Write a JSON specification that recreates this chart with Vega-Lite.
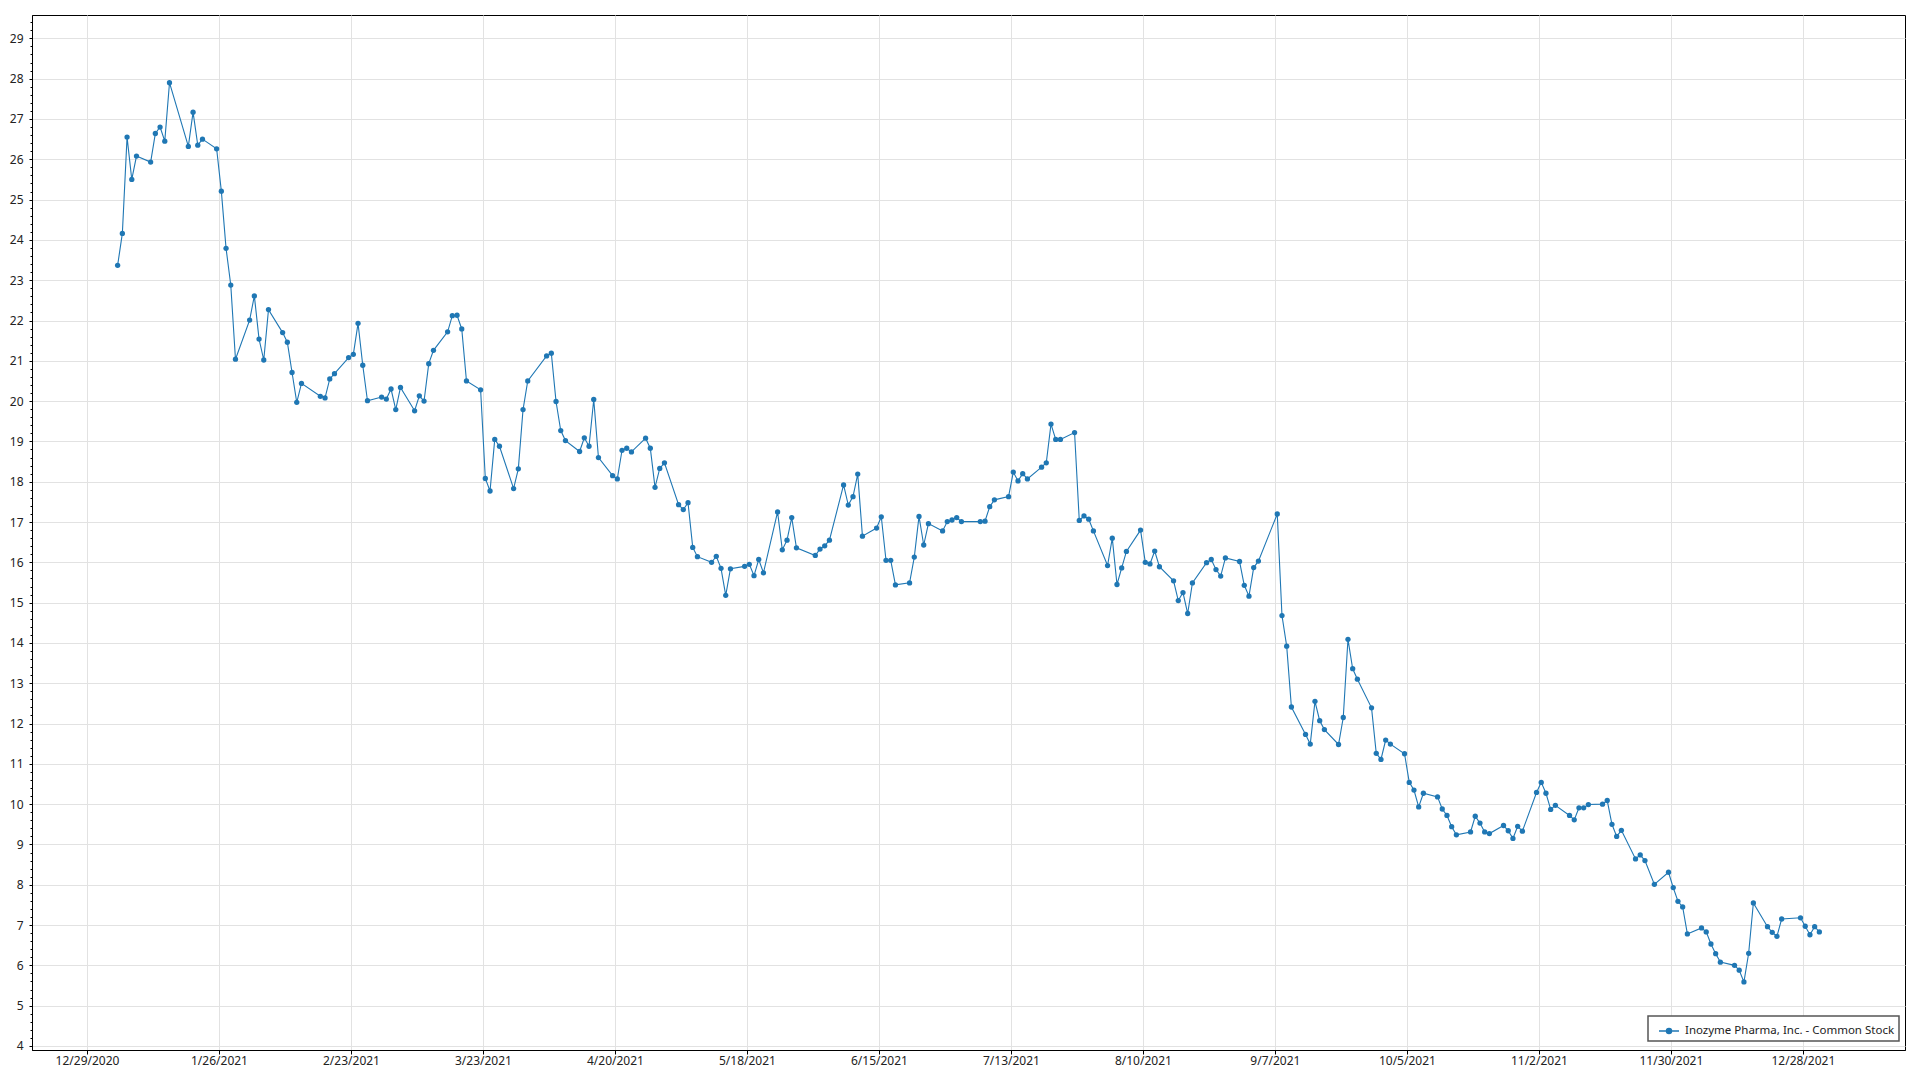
{
  "$schema": "https://vega.github.io/schema/vega-lite/v6.json",
  "autosize": {"type": "none"},
  "padding": {"left": 32, "top": 15, "right": 15, "bottom": 30},
  "width": 1873,
  "height": 1035,
  "background": "white",
  "config": {
    "view": {"stroke": "#000000", "strokeWidth": 1},
    "axis": {"labelFont": "Noto Sans", "labelFontSize": 12, "labelColor": "#222222", "domainColor": "#000000", "tickColor": "#000000", "gridColor": "#e2e2e2", "gridWidth": 1}
  },
  "data": {"values": [
    {"d":"2021-01-04T12:00","v":23.37},{"d":"2021-01-05T12:00","v":24.16},{"d":"2021-01-06T12:00","v":26.55},{"d":"2021-01-07T12:00","v":25.50},{"d":"2021-01-08T12:00","v":26.08},
    {"d":"2021-01-11T12:00","v":25.93},{"d":"2021-01-12T12:00","v":26.64},{"d":"2021-01-13T12:00","v":26.80},{"d":"2021-01-14T12:00","v":26.45},{"d":"2021-01-15T12:00","v":27.90},
    {"d":"2021-01-19T12:00","v":26.32},{"d":"2021-01-20T12:00","v":27.17},{"d":"2021-01-21T12:00","v":26.35},{"d":"2021-01-22T12:00","v":26.50},
    {"d":"2021-01-25T12:00","v":26.26},{"d":"2021-01-26T12:00","v":25.21},{"d":"2021-01-27T12:00","v":23.79},{"d":"2021-01-28T12:00","v":22.88},{"d":"2021-01-29T12:00","v":21.04},
    {"d":"2021-02-01T12:00","v":22.01},{"d":"2021-02-02T12:00","v":22.61},{"d":"2021-02-03T12:00","v":21.54},{"d":"2021-02-04T12:00","v":21.02},{"d":"2021-02-05T12:00","v":22.27},
    {"d":"2021-02-08T12:00","v":21.70},{"d":"2021-02-09T12:00","v":21.46},{"d":"2021-02-10T12:00","v":20.71},{"d":"2021-02-11T12:00","v":19.97},{"d":"2021-02-12T12:00","v":20.44},
    {"d":"2021-02-16T12:00","v":20.12},{"d":"2021-02-17T12:00","v":20.08},{"d":"2021-02-18T12:00","v":20.55},{"d":"2021-02-19T12:00","v":20.68},
    {"d":"2021-02-22T12:00","v":21.08},{"d":"2021-02-23T12:00","v":21.16},{"d":"2021-02-24T12:00","v":21.93},{"d":"2021-02-25T12:00","v":20.89},{"d":"2021-02-26T12:00","v":20.01},
    {"d":"2021-03-01T12:00","v":20.10},{"d":"2021-03-02T12:00","v":20.05},{"d":"2021-03-03T12:00","v":20.30},{"d":"2021-03-04T12:00","v":19.79},{"d":"2021-03-05T12:00","v":20.34},
    {"d":"2021-03-08T12:00","v":19.76},{"d":"2021-03-09T12:00","v":20.13},{"d":"2021-03-10T12:00","v":20.00},{"d":"2021-03-11T12:00","v":20.93},{"d":"2021-03-12T12:00","v":21.26},
    {"d":"2021-03-15T12:00","v":21.72},{"d":"2021-03-16T12:00","v":22.12},{"d":"2021-03-17T12:00","v":22.13},{"d":"2021-03-18T12:00","v":21.79},{"d":"2021-03-19T12:00","v":20.50},
    {"d":"2021-03-22T12:00","v":20.28},{"d":"2021-03-23T12:00","v":18.08},{"d":"2021-03-24T12:00","v":17.77},{"d":"2021-03-25T12:00","v":19.05},{"d":"2021-03-26T12:00","v":18.88},
    {"d":"2021-03-29T12:00","v":17.83},{"d":"2021-03-30T12:00","v":18.32},{"d":"2021-03-31T12:00","v":19.79},{"d":"2021-04-01T12:00","v":20.50},
    {"d":"2021-04-05T12:00","v":21.12},{"d":"2021-04-06T12:00","v":21.19},{"d":"2021-04-07T12:00","v":19.99},{"d":"2021-04-08T12:00","v":19.27},{"d":"2021-04-09T12:00","v":19.02},
    {"d":"2021-04-12T12:00","v":18.75},{"d":"2021-04-13T12:00","v":19.09},{"d":"2021-04-14T12:00","v":18.88},{"d":"2021-04-15T12:00","v":20.04},{"d":"2021-04-16T12:00","v":18.60},
    {"d":"2021-04-19T12:00","v":18.15},{"d":"2021-04-20T12:00","v":18.07},{"d":"2021-04-21T12:00","v":18.78},{"d":"2021-04-22T12:00","v":18.83},{"d":"2021-04-23T12:00","v":18.74},
    {"d":"2021-04-26T12:00","v":19.08},{"d":"2021-04-27T12:00","v":18.83},{"d":"2021-04-28T12:00","v":17.86},{"d":"2021-04-29T12:00","v":18.33},{"d":"2021-04-30T12:00","v":18.47},
    {"d":"2021-05-03T12:00","v":17.43},{"d":"2021-05-04T12:00","v":17.31},{"d":"2021-05-05T12:00","v":17.48},{"d":"2021-05-06T12:00","v":16.37},{"d":"2021-05-07T12:00","v":16.14},
    {"d":"2021-05-10T12:00","v":16.00},{"d":"2021-05-11T12:00","v":16.15},{"d":"2021-05-12T12:00","v":15.85},{"d":"2021-05-13T12:00","v":15.18},{"d":"2021-05-14T12:00","v":15.84},
    {"d":"2021-05-17T12:00","v":15.90},{"d":"2021-05-18T12:00","v":15.95},{"d":"2021-05-19T12:00","v":15.67},{"d":"2021-05-20T12:00","v":16.07},{"d":"2021-05-21T12:00","v":15.74},
    {"d":"2021-05-24T12:00","v":17.25},{"d":"2021-05-25T12:00","v":16.31},{"d":"2021-05-26T12:00","v":16.55},{"d":"2021-05-27T12:00","v":17.11},{"d":"2021-05-28T12:00","v":16.36},
    {"d":"2021-06-01T12:00","v":16.17},{"d":"2021-06-02T12:00","v":16.33},{"d":"2021-06-03T12:00","v":16.41},{"d":"2021-06-04T12:00","v":16.55},
    {"d":"2021-06-07T12:00","v":17.92},{"d":"2021-06-08T12:00","v":17.42},{"d":"2021-06-09T12:00","v":17.63},{"d":"2021-06-10T12:00","v":18.19},{"d":"2021-06-11T12:00","v":16.65},
    {"d":"2021-06-14T12:00","v":16.85},{"d":"2021-06-15T12:00","v":17.13},{"d":"2021-06-16T12:00","v":16.05},{"d":"2021-06-17T12:00","v":16.05},{"d":"2021-06-18T12:00","v":15.44},
    {"d":"2021-06-21T12:00","v":15.49},{"d":"2021-06-22T12:00","v":16.13},{"d":"2021-06-23T12:00","v":17.14},{"d":"2021-06-24T12:00","v":16.43},{"d":"2021-06-25T12:00","v":16.96},
    {"d":"2021-06-28T12:00","v":16.78},{"d":"2021-06-29T12:00","v":17.01},{"d":"2021-06-30T12:00","v":17.05},{"d":"2021-07-01T12:00","v":17.11},{"d":"2021-07-02T12:00","v":17.01},
    {"d":"2021-07-06T12:00","v":17.01},{"d":"2021-07-07T12:00","v":17.02},{"d":"2021-07-08T12:00","v":17.38},{"d":"2021-07-09T12:00","v":17.55},
    {"d":"2021-07-12T12:00","v":17.63},{"d":"2021-07-13T12:00","v":18.24},{"d":"2021-07-14T12:00","v":18.02},{"d":"2021-07-15T12:00","v":18.20},{"d":"2021-07-16T12:00","v":18.07},
    {"d":"2021-07-19T12:00","v":18.36},{"d":"2021-07-20T12:00","v":18.47},{"d":"2021-07-21T12:00","v":19.43},{"d":"2021-07-22T12:00","v":19.05},{"d":"2021-07-23T12:00","v":19.05},
    {"d":"2021-07-26T12:00","v":19.22},{"d":"2021-07-27T12:00","v":17.04},{"d":"2021-07-28T12:00","v":17.15},{"d":"2021-07-29T12:00","v":17.07},{"d":"2021-07-30T12:00","v":16.78},
    {"d":"2021-08-02T12:00","v":15.92},{"d":"2021-08-03T12:00","v":16.60},{"d":"2021-08-04T12:00","v":15.45},{"d":"2021-08-05T12:00","v":15.86},{"d":"2021-08-06T12:00","v":16.27},
    {"d":"2021-08-09T12:00","v":16.80},{"d":"2021-08-10T12:00","v":16.00},{"d":"2021-08-11T12:00","v":15.96},{"d":"2021-08-12T12:00","v":16.28},{"d":"2021-08-13T12:00","v":15.89},
    {"d":"2021-08-16T12:00","v":15.54},{"d":"2021-08-17T12:00","v":15.05},{"d":"2021-08-18T12:00","v":15.25},{"d":"2021-08-19T12:00","v":14.73},{"d":"2021-08-20T12:00","v":15.49},
    {"d":"2021-08-23T12:00","v":15.99},{"d":"2021-08-24T12:00","v":16.07},{"d":"2021-08-25T12:00","v":15.82},{"d":"2021-08-26T12:00","v":15.66},{"d":"2021-08-27T12:00","v":16.11},
    {"d":"2021-08-30T12:00","v":16.02},{"d":"2021-08-31T12:00","v":15.43},{"d":"2021-09-01T12:00","v":15.16},{"d":"2021-09-02T12:00","v":15.87},{"d":"2021-09-03T12:00","v":16.03},
    {"d":"2021-09-07T12:00","v":17.20},{"d":"2021-09-08T12:00","v":14.68},{"d":"2021-09-09T12:00","v":13.92},{"d":"2021-09-10T12:00","v":12.41},
    {"d":"2021-09-13T12:00","v":11.73},{"d":"2021-09-14T12:00","v":11.49},{"d":"2021-09-15T12:00","v":12.55},{"d":"2021-09-16T12:00","v":12.07},{"d":"2021-09-17T12:00","v":11.85},
    {"d":"2021-09-20T12:00","v":11.48},{"d":"2021-09-21T12:00","v":12.15},{"d":"2021-09-22T12:00","v":14.09},{"d":"2021-09-23T12:00","v":13.36},{"d":"2021-09-24T12:00","v":13.10},
    {"d":"2021-09-27T12:00","v":12.39},{"d":"2021-09-28T12:00","v":11.26},{"d":"2021-09-29T12:00","v":11.11},{"d":"2021-09-30T12:00","v":11.59},{"d":"2021-10-01T12:00","v":11.49},
    {"d":"2021-10-04T12:00","v":11.25},{"d":"2021-10-05T12:00","v":10.54},{"d":"2021-10-06T12:00","v":10.35},{"d":"2021-10-07T12:00","v":9.93},{"d":"2021-10-08T12:00","v":10.27},
    {"d":"2021-10-11T12:00","v":10.18},{"d":"2021-10-12T12:00","v":9.88},{"d":"2021-10-13T12:00","v":9.72},{"d":"2021-10-14T12:00","v":9.44},{"d":"2021-10-15T12:00","v":9.24},
    {"d":"2021-10-18T12:00","v":9.31},{"d":"2021-10-19T12:00","v":9.70},{"d":"2021-10-20T12:00","v":9.53},{"d":"2021-10-21T12:00","v":9.31},{"d":"2021-10-22T12:00","v":9.27},
    {"d":"2021-10-25T12:00","v":9.47},{"d":"2021-10-26T12:00","v":9.34},{"d":"2021-10-27T12:00","v":9.15},{"d":"2021-10-28T12:00","v":9.45},{"d":"2021-10-29T12:00","v":9.33},
    {"d":"2021-11-01T12:00","v":10.29},{"d":"2021-11-02T12:00","v":10.54},{"d":"2021-11-03T12:00","v":10.27},{"d":"2021-11-04T12:00","v":9.87},{"d":"2021-11-05T12:00","v":9.97},
    {"d":"2021-11-08T12:00","v":9.72},{"d":"2021-11-09T12:00","v":9.61},{"d":"2021-11-10T12:00","v":9.91},{"d":"2021-11-11T12:00","v":9.91},{"d":"2021-11-12T12:00","v":9.99},
    {"d":"2021-11-15T12:00","v":10.00},{"d":"2021-11-16T12:00","v":10.09},{"d":"2021-11-17T12:00","v":9.50},{"d":"2021-11-18T12:00","v":9.20},{"d":"2021-11-19T12:00","v":9.35},
    {"d":"2021-11-22T12:00","v":8.64},{"d":"2021-11-23T12:00","v":8.74},{"d":"2021-11-24T12:00","v":8.60},{"d":"2021-11-26T12:00","v":8.01},
    {"d":"2021-11-29T12:00","v":8.31},{"d":"2021-11-30T12:00","v":7.93},{"d":"2021-12-01T12:00","v":7.59},{"d":"2021-12-02T12:00","v":7.45},{"d":"2021-12-03T12:00","v":6.78},
    {"d":"2021-12-06T12:00","v":6.93},{"d":"2021-12-07T12:00","v":6.83},{"d":"2021-12-08T12:00","v":6.53},{"d":"2021-12-09T12:00","v":6.29},{"d":"2021-12-10T12:00","v":6.08},
    {"d":"2021-12-13T12:00","v":6.00},{"d":"2021-12-14T12:00","v":5.88},{"d":"2021-12-15T12:00","v":5.59},{"d":"2021-12-16T12:00","v":6.30},{"d":"2021-12-17T12:00","v":7.55},
    {"d":"2021-12-20T12:00","v":6.96},{"d":"2021-12-21T12:00","v":6.82},{"d":"2021-12-22T12:00","v":6.72},{"d":"2021-12-23T12:00","v":7.15},
    {"d":"2021-12-27T12:00","v":7.18},{"d":"2021-12-28T12:00","v":6.97},{"d":"2021-12-29T12:00","v":6.76},{"d":"2021-12-30T12:00","v":6.96},{"d":"2021-12-31T12:00","v":6.83}
  ]},
  "mark": {"type": "line", "strokeWidth": 1.1, "point": {"filled": true, "size": 28, "opacity": 1}},
  "encoding": {
    "x": {
      "field": "d", "type": "temporal",
      "scale": {"domain": [{"year": 2020, "month": 12, "date": 17, "hours": 8}, {"year": 2022, "month": 1, "date": 18, "hours": 16}]},
      "axis": {
        "title": null, "grid": true, "format": "%-m/%-d/%Y", "tickSize": 4, "labelPadding": 1, "labelOverlap": false,
        "values": [
          {"year": 2020, "month": 12, "date": 29}, {"year": 2021, "month": 1, "date": 26}, {"year": 2021, "month": 2, "date": 23},
          {"year": 2021, "month": 3, "date": 23}, {"year": 2021, "month": 4, "date": 20}, {"year": 2021, "month": 5, "date": 18},
          {"year": 2021, "month": 6, "date": 15}, {"year": 2021, "month": 7, "date": 13}, {"year": 2021, "month": 8, "date": 10},
          {"year": 2021, "month": 9, "date": 7}, {"year": 2021, "month": 10, "date": 5}, {"year": 2021, "month": 11, "date": 2},
          {"year": 2021, "month": 11, "date": 30}, {"year": 2021, "month": 12, "date": 28}
        ]
      }
    },
    "y": {
      "field": "v", "type": "quantitative",
      "scale": {"domain": [3.9, 29.58], "zero": false, "nice": false},
      "axis": {
        "title": null, "grid": true, "labelOverlap": false, "labelPadding": 6,
        "labelExpr": "datum.value % 1 === 0 ? format(datum.value, 'd') : ''",
        "tickSize": {"condition": {"test": "datum.value % 1 === 0", "value": 3}, "value": 2},
        "gridOpacity": {"condition": {"test": "datum.value % 1 === 0", "value": 1}, "value": 0},
        "values": [4,4.2,4.4,4.6,4.8,5,5.2,5.4,5.6,5.8,6,6.2,6.4,6.6,6.8,7,7.2,7.4,7.6,7.8,8,8.2,8.4,8.6,8.8,9,9.2,9.4,9.6,9.8,10,10.2,10.4,10.6,10.8,11,11.2,11.4,11.6,11.8,12,12.2,12.4,12.6,12.8,13,13.2,13.4,13.6,13.8,14,14.2,14.4,14.6,14.8,15,15.2,15.4,15.6,15.8,16,16.2,16.4,16.6,16.8,17,17.2,17.4,17.6,17.8,18,18.2,18.4,18.6,18.8,19,19.2,19.4,19.6,19.8,20,20.2,20.4,20.6,20.8,21,21.2,21.4,21.6,21.8,22,22.2,22.4,22.6,22.8,23,23.2,23.4,23.6,23.8,24,24.2,24.4,24.6,24.8,25,25.2,25.4,25.6,25.8,26,26.2,26.4,26.6,26.8,27,27.2,27.4,27.6,27.8,28,28.2,28.4,28.6,28.8,29,29.2,29.4]
      }
    },
    "color": {
      "datum": "Inozyme Pharma, Inc. - Common Stock",
      "type": "nominal",
      "scale": {"range": ["#1f77b4"]},
      "legend": {
        "title": null, "orient": "none", "legendX": 1616, "legendY": 1001,
        "padding": 4, "fillColor": "white", "strokeColor": "#555555",
        "labelFont": "Noto Sans", "labelFontSize": 11.5, "labelColor": "#222222", "labelOffset": 5, "labelLimit": 400,
        "symbolOffset": 6,
        "symbolType": "M-1,0L1,0M-0.25,0a0.25,0.25 0 1,0 0.5,0a0.25,0.25 0 1,0 -0.5,0",
        "symbolSize": 400, "symbolStrokeWidth": 1.5, "symbolStrokeColor": "#1f77b4", "symbolFillColor": "#1f77b4",
        "encode": {"legend": {"update": {"strokeWidth": {"value": 1.5}}}, "symbols": {"update": {"fill": {"value": "#1f77b4"}, "stroke": {"value": "#1f77b4"}}}}
      }
    }
  }
}
